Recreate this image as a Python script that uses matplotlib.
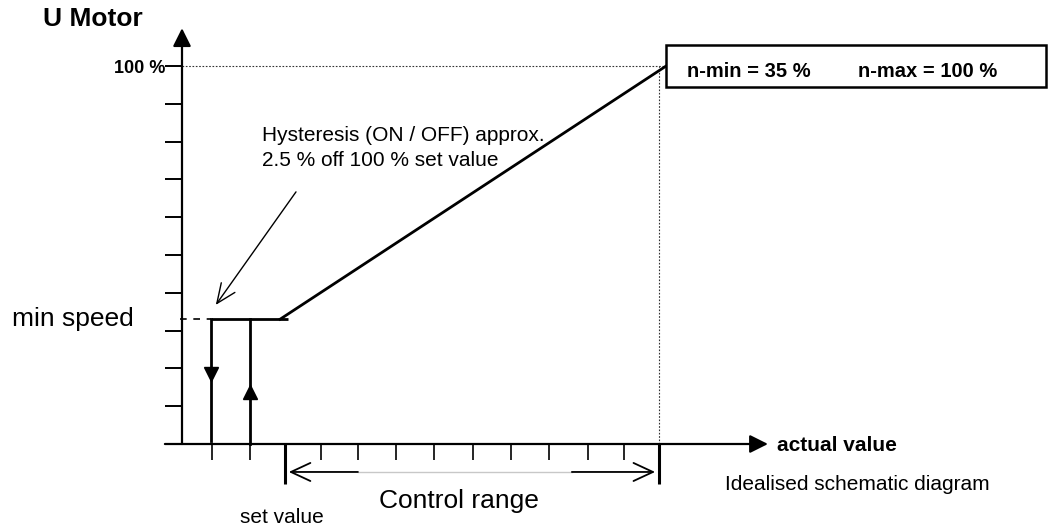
import numpy as np
import matplotlib
matplotlib.use('Agg')
import matplotlib.pyplot as plt
from matplotlib.patches import Rectangle

plt.rcParams['font.family'] = ['Liberation Sans', 'DejaVu Sans']

y_tick_pct = [10, 20, 30, 40, 50, 60, 70, 80, 90, 100]
x_tick_pos = [0.79, 1.79, 3.66, 4.63, 5.63, 6.63, 7.66, 8.66, 9.66, 10.68, 11.63]
control_range = [2.71, 12.55]
min_speed_pct = 33
max_speed_pct = 100
switch_off_x = 0.76
switch_on_x = 1.79
plateau_end_x = 2.79
ramp_x = [2.58, 12.74]
ramp_y = [min_speed_pct, max_speed_pct]
n_min_label = 'n-min = 35 %'
n_max_label = 'n-max = 100 %'

fig = plt.figure(figsize=(10.58, 5.26), dpi=100)
ax = fig.add_axes([0, 0, 1, 1])
ax.set_xlim(-182 / 38, (1058 - 182) / 38)
ax.set_ylim(-82 / 3.78, 444 / 3.78)
ax.axis('off')

k = 'black'
axis_lw = 1.6

# axes with filled arrow heads
ax.annotate('', xy=(0, 110), xytext=(0, 0),
            arrowprops=dict(arrowstyle='-|>,head_length=1.1,head_width=0.55',
                            color=k, lw=axis_lw, shrinkA=0, shrinkB=0))
ax.annotate('', xy=(15.42, 0), xytext=(-0.45, 0),
            arrowprops=dict(arrowstyle='-|>,head_length=1.1,head_width=0.55',
                            color=k, lw=axis_lw, shrinkA=0, shrinkB=0))

# y ticks
for yt in y_tick_pct:
    ax.plot([-0.45, 0], [yt, yt], color=k, lw=1.4, solid_capstyle='butt')
# x ticks
for xt in x_tick_pos:
    ax.plot([xt, xt], [0, -4.2], color=k, lw=1.2, solid_capstyle='butt')
for xt in control_range:
    ax.plot([xt, xt], [0, -10.6], color=k, lw=2.2, solid_capstyle='butt')

# dotted guides to 100 %
ax.plot([0, ramp_x[1]], [max_speed_pct, max_speed_pct], color='#333333', lw=0.8, ls=(0, (1.5, 1.5)))
ax.plot([control_range[1], control_range[1]], [0, max_speed_pct], color='#333333', lw=0.8, ls=(0, (1.5, 1.5)))

# min speed dashed + plateau + ramp
ax.plot([-0.05, switch_off_x], [min_speed_pct, min_speed_pct], color=k, lw=1.2, ls=(0, (4, 4)))
ax.plot([switch_off_x, plateau_end_x], [min_speed_pct, min_speed_pct], color=k, lw=2, solid_capstyle='butt')
ax.plot(ramp_x, ramp_y, color=k, lw=2)

# hysteresis switching lines with filled arrows
ax.plot([switch_off_x, switch_off_x], [min_speed_pct, 0.8], color=k, lw=2)
ax.plot([switch_on_x, switch_on_x], [0, min_speed_pct], color=k, lw=2)
ax.plot([switch_off_x], [min_speed_pct * 0.56], marker='v', ms=10.5, color=k)
ax.plot([switch_on_x], [min_speed_pct * 0.42], marker='^', ms=10.5, color=k)

# control range arrows
cr_y = -7.4
split = [4.63, 10.26]
ax.plot([split[0], split[1]], [cr_y, cr_y], color='#c8c8c8', lw=1)
ax.annotate('', xy=(control_range[0] + 0.1, cr_y), xytext=(split[0], cr_y),
            arrowprops=dict(arrowstyle='->,head_length=1.4,head_width=0.65',
                            color=k, lw=1.3, shrinkA=0, shrinkB=0))
ax.annotate('', xy=(control_range[1] - 0.1, cr_y), xytext=(split[1], cr_y),
            arrowprops=dict(arrowstyle='->,head_length=1.4,head_width=0.65',
                            color=k, lw=1.3, shrinkA=0, shrinkB=0))

# hysteresis pointer
ax.annotate('', xy=(0.89, 36.8), xytext=(3.0, 66.7),
            arrowprops=dict(arrowstyle='->,head_length=1.4,head_width=0.6',
                            color=k, lw=1.0, shrinkA=0, shrinkB=0))

# info box
ax.add_patch(Rectangle((ramp_x[1], 94.4), 10.0, 11.2, fill=True, facecolor='white',
                       edgecolor=k, lw=1.8, zorder=3))
ax.text(13.29, 97.1, n_min_label, fontsize=14.5, fontweight='bold', va='baseline', zorder=4)
ax.text(17.79, 97.1, n_max_label, fontsize=14.5, fontweight='bold', va='baseline', zorder=4)

# labels
ax.text(-3.66, 110.6, 'U Motor', fontsize=19, fontweight='bold', va='baseline')
ax.text(-0.45, 98.2, '100 %', fontsize=13, fontweight='bold', va='baseline', ha='right')
ax.text(-4.47, 31.2, 'min speed', fontsize=19, va='baseline')
ax.text(2.1, 80.2, 'Hysteresis (ON / OFF) approx.', fontsize=15, va='baseline')
ax.text(2.1, 73.5, '2.5 % off 100 % set value', fontsize=15, va='baseline')
ax.text(15.66, -1.85, 'actual value', fontsize=15, fontweight='bold', va='baseline')
ax.text(14.29, -12.2, 'Idealised schematic diagram', fontsize=15, va='baseline')
ax.text(2.64, -20.9, 'set value', fontsize=15, va='baseline', ha='center')
ax.text(7.3, -16.9, 'Control range', fontsize=19, va='baseline', ha='center')

fig.savefig('out.png', dpi=100)
